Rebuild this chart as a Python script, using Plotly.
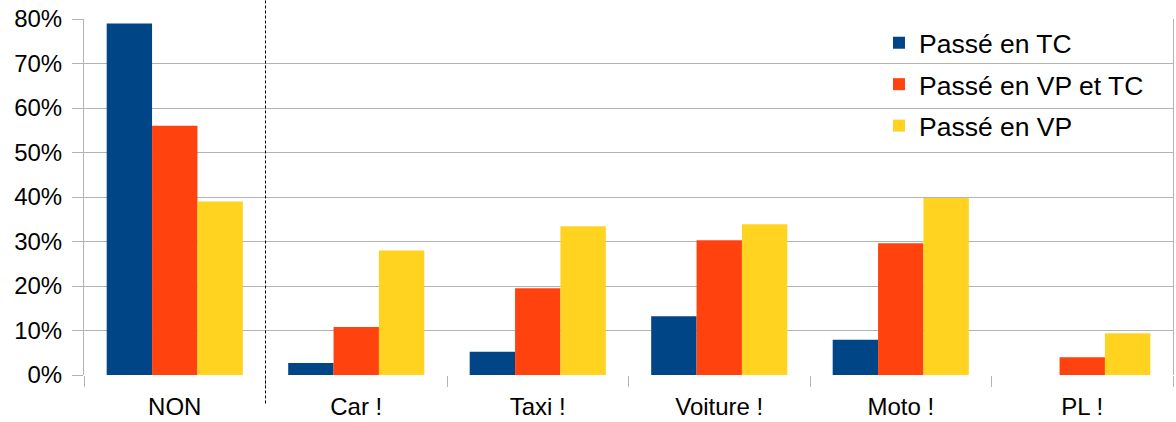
import plotly.graph_objects as go

categories = ["NON", "Car !", "Taxi !", "Voiture !", "Moto !", "PL !"]
series_names = ["Passé en TC", "Passé en VP et TC", "Passé en VP"]
tc = [0.79, 0.027, 0.052, 0.132, 0.079, 0.0]
vp_tc = [0.56, 0.108, 0.195, 0.303, 0.296, 0.040]
vp = [0.39, 0.28, 0.334, 0.339, 0.398, 0.094]
colors = ["#004586", "#ff420e", "#ffd320"]
y_ticks = [0, 0.1, 0.2, 0.3, 0.4, 0.5, 0.6, 0.7, 0.8]
y_ticklabels = ["0%", "10%", "20%", "30%", "40%", "50%", "60%", "70%", "80%"]

fig = go.Figure()
for i, (name, vals) in enumerate(zip(series_names, [tc, vp_tc, vp])):
    fig.add_trace(go.Bar(x=categories, y=vals, name=name, marker_color=colors[i],
                         marker_line_width=0, legendgroup=f"g{i}"))

font_family = "Liberation Sans, Arial, sans-serif"
fig.update_layout(
    width=1176, height=422,
    margin=dict(l=84, r=3, t=19, b=47),
    paper_bgcolor="white", plot_bgcolor="white",
    barmode="group", bargap=0.25, bargroupgap=0,
    font=dict(family=font_family, size=24, color="black"),
    legend=dict(x=0.730, y=1.0, xanchor="left", yanchor="top",
                bgcolor="rgba(0,0,0,0)", font=dict(size=26.5),
                tracegroupgap=4),
    showlegend=True,
)
fig.update_xaxes(type="category", tickson="boundaries", ticks="outside", ticklen=11,
                 tickcolor="#b3b3b3", showgrid=False, showline=False,
                 tickfont=dict(size=24), range=[-0.5, 5.5], automargin=False,
                 ticklabelstandoff=15)
fig.update_yaxes(range=[0, 0.8], tickvals=y_ticks, ticktext=y_ticklabels,
                 showgrid=True, gridcolor="#b3b3b3", gridwidth=1,
                 ticks="outside", ticklen=11, tickcolor="#b3b3b3",
                 showline=True, linecolor="#b3b3b3", mirror=True,
                 zeroline=False, tickfont=dict(size=24), automargin=False,
                 ticklabelstandoff=5, ticklabeloverflow="allow")
fig.add_shape(type="line", xref="x", yref="paper", x0=0.5, x1=0.5, y0=-0.08, y1=1.053,
              line=dict(color="black", width=1, dash="3px,2px"))
fig.write_html("out.html", config={"displayModeBar": False},
               post_script="document.body.style.margin='0';")
